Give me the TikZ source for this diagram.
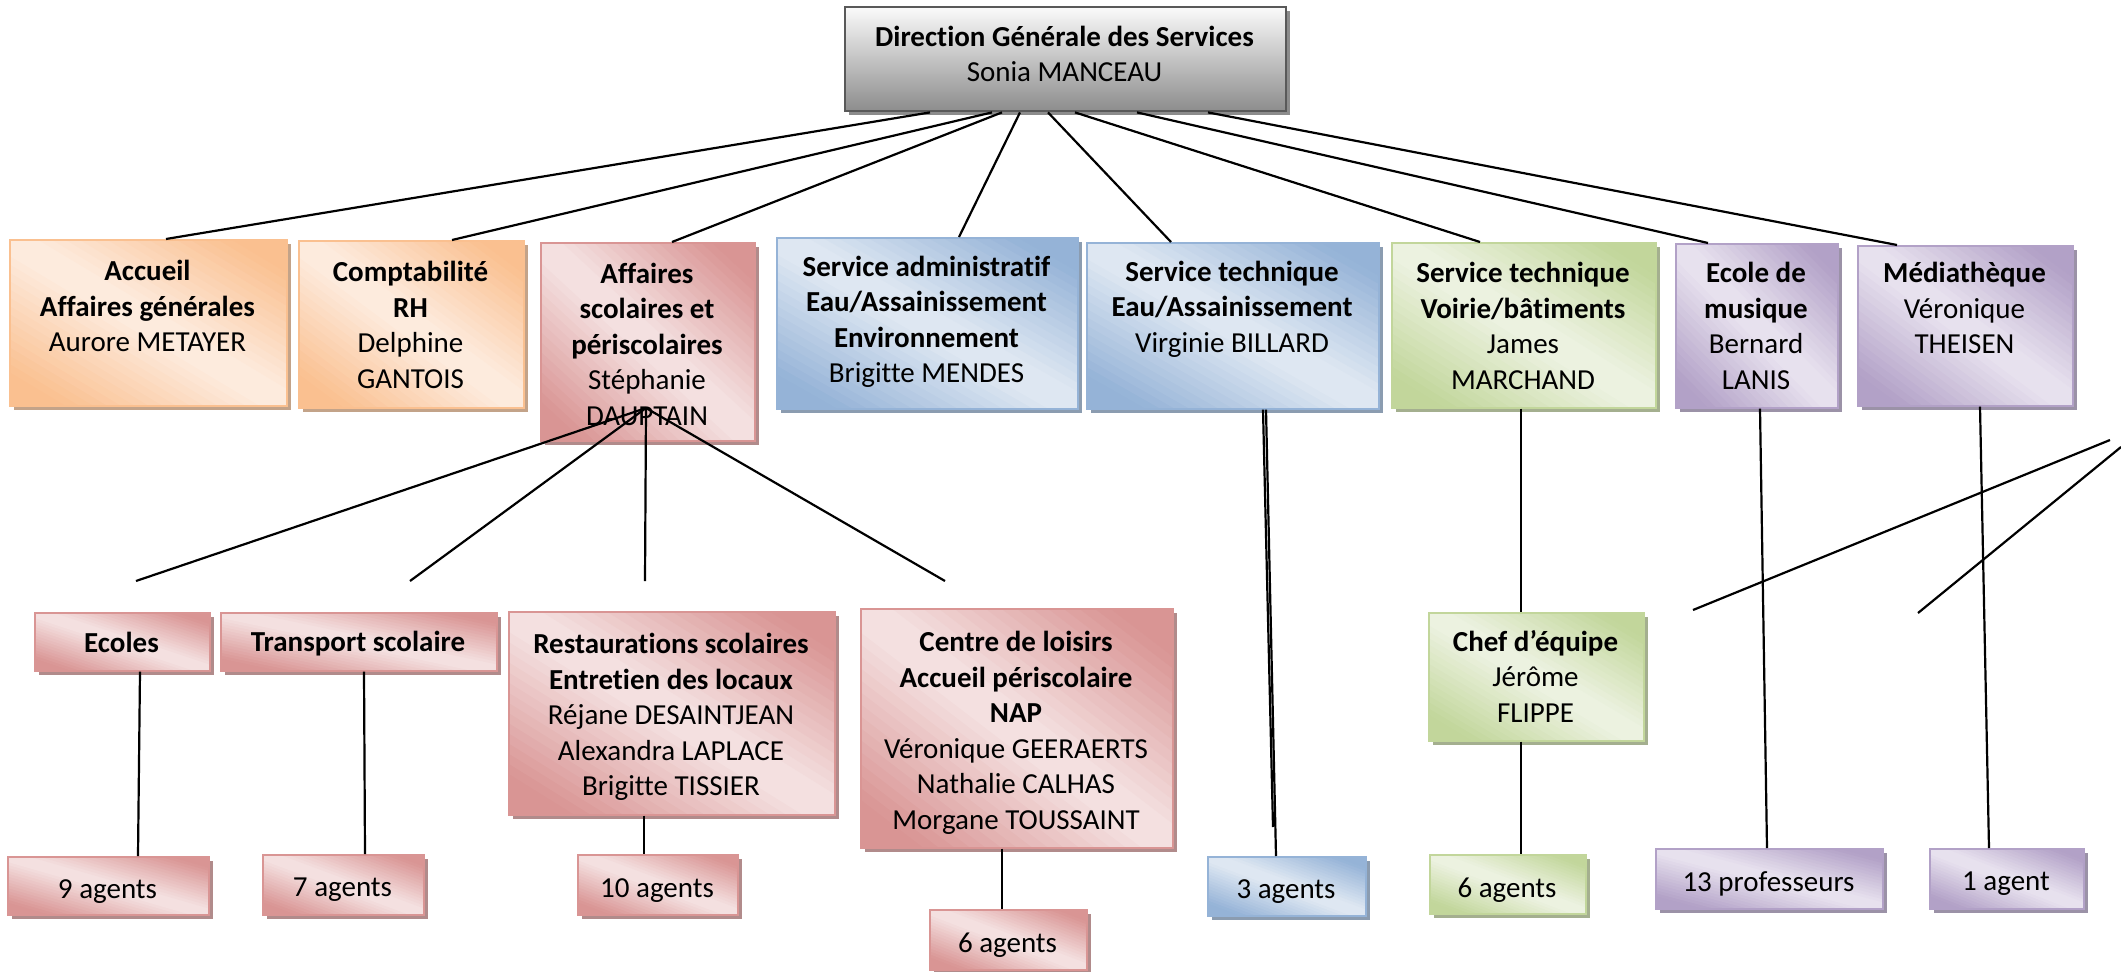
\documentclass[tikz,border=0pt]{standalone}
\usepackage{fontspec}
\setmainfont{Carlito}[Ligatures=NoCommon]
\definecolor{oD}{HTML}{FAC090}\definecolor{oL}{HTML}{FDEBDD}
\definecolor{rD}{HTML}{D99594}\definecolor{rL}{HTML}{F4E0E0}
\definecolor{bD}{HTML}{95B3D7}\definecolor{bL}{HTML}{DEE7F2}
\definecolor{gD}{HTML}{C2D69B}\definecolor{gL}{HTML}{ECF2E0}
\definecolor{pD}{HTML}{B2A1C7}\definecolor{pL}{HTML}{E7E1EE}
\tikzset{
  box/.style={line width=1.6pt, inner sep=0pt},
  dgsbox/.style={draw=black!65, line width=2.4pt, inner sep=0pt, top color=black!2, bottom color=black!45},
  lbl/.style={align=center, inner sep=0pt, font=\fontsize{29}{35.5}\selectfont},
  link/.style={draw=black, line width=2.2pt},
}
% diagonal gradient: dark at bottom-left and top-right corners, light along the other diagonal
\newcommand{\gradfill}[6]{%
  \begin{scope}[shift={(#1,#4)}, xscale={#3-#1}, yscale={#2-#4}]
    \clip (0,0) rectangle (1,1);
    \foreach \i in {0,...,39}{%
      \pgfmathsetmacro{\sa}{2*\i/40}%
      \pgfmathsetmacro{\sb}{2*(\i+1.4)/40}%
      \pgfmathsetmacro{\pp}{max(0,min(100,(abs((\i+0.5)/40-0.5)-0.04)/0.36*100))}%
      \fill[#5!\pp!#6] (\sa+1,-1) -- (\sb+1,-1) -- (-1,\sb+1) -- (-1,\sa+1) -- cycle;
    }
  \end{scope}}
\newcommand{\orgbox}[7]{%
  \fill[#2!55!gray] ({#4+5},{#5+5}) rectangle ({#6+5},{#7+5});
  \gradfill{#4}{#5}{#6}{#7}{#2}{#3}
  \node[box, draw=#2, anchor=north west, minimum width={#6-#4}, minimum height={#7-#5}] (#1) at (#4,#5) {};
}
\begin{document}
\begin{tikzpicture}[x=1pt,y=-1pt]
\useasboundingbox[fill=white] (0,0) rectangle (2121,972);
% top
\fill[black!45] (849,11) rectangle (1290,115);
\node[dgsbox, anchor=north west, minimum width=441, minimum height=104] (dgs) at (844,6) {};
\node[lbl] (dgs-t) at (1064.5,54) {\textbf{Direction Générale des Services}\\Sonia MANCEAU};
% row 1
\orgbox{acc}{oD}{oL}{9}{239}{286}{405}
\node[lbl] (acc-t) at (147.5,306) {\textbf{Accueil}\\\textbf{Affaires générales}\\Aurore METAYER};
\orgbox{comp}{oD}{oL}{298}{240}{523}{407}
\node[lbl] (comp-t) at (410.5,325) {\textbf{Comptabilité}\\\textbf{RH}\\Delphine\\GANTOIS};
\orgbox{aff}{rD}{rL}{540}{242}{754}{440}
\node[lbl] (aff-t) at (647,344) {\textbf{Affaires}\\\textbf{scolaires et}\\\textbf{périscolaires}\\Stéphanie\\DAUPTAIN};
\orgbox{sadm}{bD}{bL}{776}{237}{1077}{408}
\node[lbl] (sadm-t) at (926.5,322) {\textbf{Service administratif}\\\textbf{Eau/Assainissement}\\\textbf{Environnement}\\Brigitte MENDES};
\orgbox{ste}{bD}{bL}{1086}{242}{1378}{408}
\node[lbl] (ste-t) at (1232,309) {\textbf{Service technique}\\\textbf{Eau/Assainissement}\\Virginie BILLARD};
\orgbox{stv}{gD}{gL}{1391}{242}{1655}{407}
\node[lbl] (stv-t) at (1523,326) {\textbf{Service technique}\\\textbf{Voirie/bâtiments}\\James\\MARCHAND};
\orgbox{mus}{pD}{pL}{1675}{243}{1837}{407}
\node[lbl] (mus-t) at (1756,326) {\textbf{Ecole de}\\\textbf{musique}\\Bernard\\LANIS};
\orgbox{med}{pD}{pL}{1857}{245}{2072}{405}
\node[lbl] (med-t) at (1964.5,308) {\textbf{Médiathèque}\\Véronique\\THEISEN};
% row 2
\orgbox{ecoles}{rD}{rL}{34}{612}{209}{670}
\node[lbl] (ecoles-t) at (121.5,642) {\textbf{Ecoles}};
\orgbox{transp}{rD}{rL}{220}{612}{496}{670}
\node[lbl] (transp-t) at (358,644) {\textbf{Transport scolaire}};
\orgbox{rest}{rD}{rL}{508}{611}{834}{814}
\node[lbl] (rest-t) at (671,717) {\textbf{Restaurations scolaires}\\\textbf{Entretien des locaux}\\Réjane DESAINTJEAN\\Alexandra LAPLACE\\Brigitte TISSIER};
\orgbox{centre}{rD}{rL}{860}{608}{1172}{847}
\node[lbl] (centre-t) at (1016,733) {\textbf{Centre de loisirs}\\\textbf{Accueil périscolaire}\\\textbf{NAP}\\Véronique GEERAERTS\\Nathalie CALHAS\\Morgane TOUSSAINT};
\orgbox{chef}{gD}{gL}{1428}{612}{1643}{740}
\node[lbl] (chef-t) at (1535.5,676) {\textbf{Chef d’équipe}\\Jérôme\\FLIPPE};
% row 3
\orgbox{ag9}{rD}{rL}{7}{856}{208}{914}
\node[lbl] (ag9-t) at (107.5,892) {9 agents};
\orgbox{ag7}{rD}{rL}{262}{854}{423}{914}
\node[lbl] (ag7-t) at (342.5,890) {7 agents};
\orgbox{ag10}{rD}{rL}{577}{854}{737}{914}
\node[lbl] (ag10-t) at (657,891) {10 agents};
\orgbox{ag6r}{rD}{rL}{929}{909}{1086}{969}
\node[lbl] (ag6r-t) at (1007.5,945) {6 agents};
\orgbox{ag3}{bD}{bL}{1207}{856}{1365}{915}
\node[lbl] (ag3-t) at (1286,892) {3 agents};
\orgbox{ag6g}{gD}{gL}{1429}{854}{1585}{913}
\node[lbl] (ag6g-t) at (1507,890) {6 agents};
\orgbox{prof}{pD}{pL}{1655}{848}{1882}{908}
\node[lbl] (prof-t) at (1768.5,884) {13 professeurs};
\orgbox{ag1}{pD}{pL}{1929}{848}{2083}{908}
\node[lbl] (ag1-t) at (2006,884) {1 agent};
% free coordinates
\coordinate (hub) at (646,408);
\coordinate (f-ecoles) at (136,581);
\coordinate (f-transp) at (410,581);
\coordinate (f-rest) at (645,581);
\coordinate (f-centre) at (945,581);
\coordinate (f-ste) at (1273,827);
\coordinate (s1a) at (2110,440);
\coordinate (s1b) at (1693,610);
\coordinate (s2a) at (2121,447);
\coordinate (s2b) at (1918,613);
% connectors from DGS
\draw[link] (dgs.south -| 930,0) -- (acc.north -| 166,0);
\draw[link] (dgs.south -| 992,0) -- (comp.north -| 452,0);
\draw[link] (dgs.south -| 1002,0) -- (aff.north -| 672,0);
\draw[link] (dgs.south -| 1020,0) -- (sadm.north -| 959,0);
\draw[link] (dgs.south -| 1048,0) -- (ste.north -| 1171,0);
\draw[link] (dgs.south -| 1075,0) -- (stv.north -| 1480,0);
\draw[link] (dgs.south -| 1137,0) -- (mus.north -| 1708,0);
\draw[link] (dgs.south -| 1208,0) -- (med.north -| 1897,0);
% Affaires hub
\draw[link] (hub) -- (f-ecoles);
\draw[link] (hub) -- (f-transp);
\draw[link] (hub) -- (f-rest);
\draw[link] (hub) -- (f-centre);
% lower links
\draw[link] (ecoles.south -| 140,0) -- (ag9.north -| 138,0);
\draw[link] (transp.south -| 364,0) -- (ag7.north -| 365,0);
\draw[link] (rest.south -| 644,0) -- (ag10.north -| 644,0);
\draw[link] (centre.south -| 1002,0) -- (ag6r.north -| 1002,0);
\draw[link] (stv.south -| 1521,0) -- (chef.north -| 1521,0);
\draw[link] (chef.south -| 1521,0) -- (ag6g.north -| 1521,0);
\draw[link] (mus.south -| 1760,0) -- (prof.north -| 1767,0);
\draw[link] (med.south -| 1980,0) -- (ag1.north -| 1989,0);
\draw[link] (ste.south -| 1263,0) -- (f-ste);
\draw[link] (ste.south -| 1266,0) -- (ag3.north -| 1276,0);
% stray lines
\draw[link] (s1a) -- (s1b);
\draw[link] (s2a) -- (s2b);
\end{tikzpicture}
\end{document}
